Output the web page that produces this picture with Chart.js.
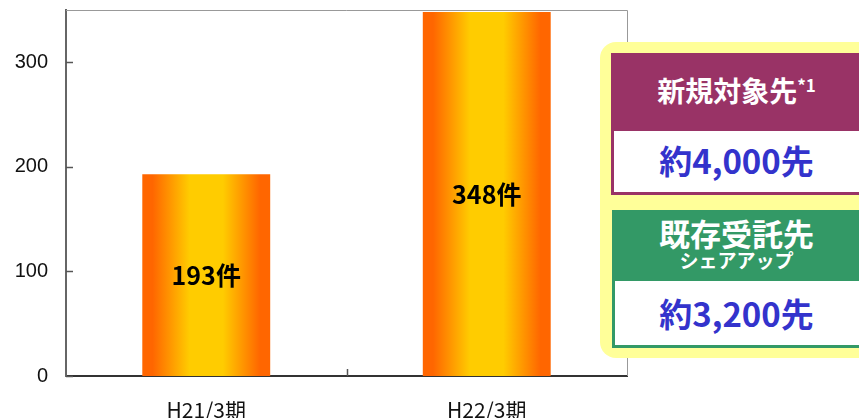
<!DOCTYPE html>
<html>
<head>
<meta charset="utf-8">
<script src="https://cdn.jsdelivr.net/npm/chart.js@4.4.0/dist/chart.umd.min.js"></script>
<style>
  html, body { margin: 0; padding: 0; background: #fff; }
  #wrap { position: relative; width: 859px; height: 418px; overflow: hidden; }
  #chart { position: absolute; left: 0; top: 0; }
  .panel { position: absolute; left: 600px; top: 42px; width: 290px; height: 316px; background: #ffff99; border-radius: 16px; }
  .box { position: absolute; box-sizing: border-box; }
  .txt { position: absolute; left: 611px; width: 251px; text-align: center; white-space: nowrap;
         font-family: "Noto Sans CJK JP", "Noto Sans", sans-serif; font-weight: bold; }
  .white { color: #fff; }
  .blue { color: #3333cc; }
  sup { font-size: 17px; vertical-align: 10px; line-height: 0; }
</style>
</head>
<body>
<div id="wrap">
  <canvas id="chart" width="859" height="418"></canvas>
  <div class="panel"></div>
  <div class="box" style="left:611px;top:53px;width:251px;height:75px;background:#993366;"></div>
  <div class="box" style="left:611px;top:128px;width:251px;height:67px;background:#fff;border:3px solid #993366;"></div>
  <div class="box" style="left:612px;top:210px;width:250px;height:68px;background:#339966;"></div>
  <div class="box" style="left:612px;top:278px;width:250px;height:70px;background:#fff;border:3px solid #339966;"></div>
  <div class="txt white" style="top:70px;height:40px;line-height:40px;font-size:28px;">新規対象先<sup>*1</sup></div>
  <div class="txt blue" style="top:140px;height:40px;line-height:40px;font-size:33px;">約4,000先</div>
  <div class="txt white" style="top:213px;height:40px;line-height:40px;font-size:31px;">既存受託先</div>
  <div class="txt white" style="top:248px;height:24px;line-height:24px;font-size:19px;">シェアアップ</div>
  <div class="txt blue" style="top:293px;height:40px;line-height:40px;font-size:33px;">約3,200先</div>
</div>
<script>
// Fiscal periods and contract counts
const categories = ['H21/3期', 'H22/3期'];
const counts = [193, 348];
const yTickValues = [0, 100, 200, 300];
const yMax = 350;
const unit = '件';

const barPct = 0.456;

// orange-yellow-orange horizontal gradient across each bar
function barGradient(c) {
  const chart = c.chart;
  const xs = chart.scales.x;
  if (!xs || !chart.chartArea) return '#ffcc00';
  const cx = xs.getPixelForValue(c.dataIndex);
  const w = (xs.width / categories.length) * barPct;
  const g = chart.ctx.createLinearGradient(cx - w / 2, 0, cx + w / 2, 0);
  g.addColorStop(0, '#ff6600');
  g.addColorStop(0.08, '#ff6600');
  g.addColorStop(0.37, '#ffcc00');
  g.addColorStop(0.63, '#ffcc00');
  g.addColorStop(0.92, '#ff6600');
  g.addColorStop(1, '#ff6600');
  return g;
}

// frame, inward tick marks and value labels
const decorations = {
  id: 'decorations',
  afterDatasetsDraw(chart) {
    const { ctx, chartArea: a, scales: { x, y } } = chart;
    ctx.save();
    // top and right frame lines
    ctx.strokeStyle = '#999';
    ctx.lineWidth = 1;
    ctx.beginPath();
    ctx.moveTo(a.left, a.top + 0.5);
    ctx.lineTo(a.right + 0.5, a.top + 0.5);
    ctx.lineTo(a.right + 0.5, a.bottom);
    ctx.stroke();
    // inward ticks on the value axis
    ctx.strokeStyle = '#555';
    ctx.lineWidth = 1.5;
    yTickValues.forEach(v => {
      const py = Math.round(y.getPixelForValue(v)) + 0.5;
      ctx.beginPath();
      ctx.moveTo(a.left, py);
      ctx.lineTo(a.left + 7, py);
      ctx.stroke();
    });
    // category boundary ticks
    for (let i = 0; i < categories.length - 1; i++) {
      const px = Math.round((x.getPixelForValue(i) + x.getPixelForValue(i + 1)) / 2) + 0.5;
      ctx.beginPath();
      ctx.moveTo(px, a.bottom);
      ctx.lineTo(px, a.bottom - 7);
      ctx.stroke();
    }
    // value labels in the middle of each bar
    ctx.fillStyle = '#000';
    ctx.font = 'bold 25px "Noto Sans CJK JP", sans-serif';
    ctx.textAlign = 'center';
    ctx.textBaseline = 'middle';
    chart.getDatasetMeta(0).data.forEach((bar, i) => {
      const mid = (bar.y + bar.base) / 2;
      ctx.fillText(counts[i] + unit, bar.x, mid);
    });
    ctx.restore();
  }
};

new Chart(document.getElementById('chart'), {
  type: 'bar',
  data: {
    labels: categories,
    datasets: [{
      data: counts,
      backgroundColor: barGradient,
      borderWidth: 0,
      barPercentage: barPct,
      categoryPercentage: 1
    }]
  },
  options: {
    responsive: false,
    animation: false,
    devicePixelRatio: 1,
    layout: { padding: { left: 0, top: 10, right: 232, bottom: 0 } },
    plugins: { legend: { display: false }, tooltip: { enabled: false } },
    scales: {
      x: {
        grid: { display: false, drawTicks: false },
        border: { display: true, color: '#333', width: 2 },
        ticks: {
          padding: 21,
          color: '#111',
          font: { family: '"Noto Sans CJK JP", sans-serif', size: 21 }
        },
        afterFit(s) { s.height = 42; s.paddingLeft = 0; s.paddingRight = 0; }
      },
      y: {
        min: 0,
        max: yMax,
        grid: { display: false, drawTicks: false },
        border: { display: true, color: '#666', width: 2 },
        afterBuildTicks(s) { s.ticks = yTickValues.map(v => ({ value: v })); },
        ticks: {
          padding: 18,
          color: '#111',
          font: { family: '"Liberation Sans", Arial, sans-serif', size: 20 }
        },
        afterFit(s) { s.width = 66; s.paddingTop = 0; s.paddingBottom = 0; }
      }
    }
  },
  plugins: [decorations]
});
</script>
</body>
</html>
